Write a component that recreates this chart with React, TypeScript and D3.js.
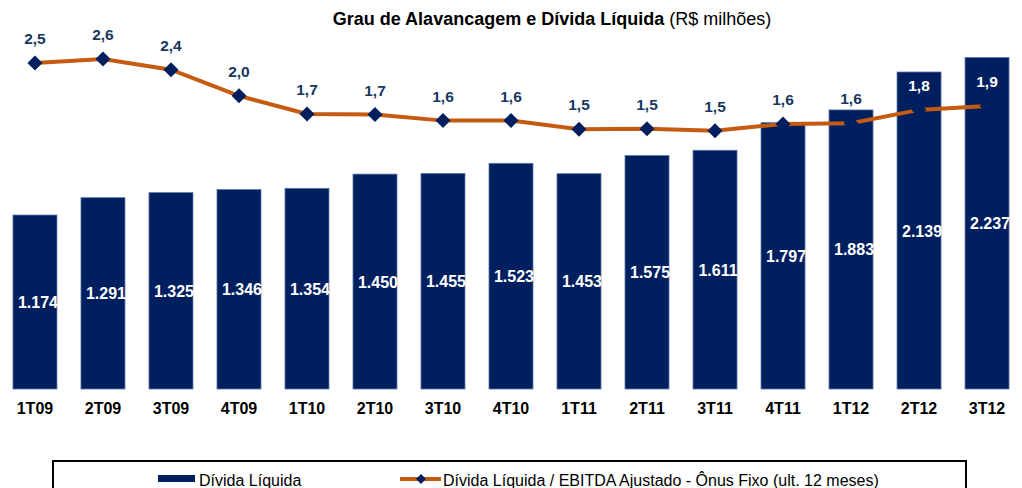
import { scaleBand, scaleLinear, line } from "d3";

const categories = ["1T09", "2T09", "3T09", "4T09", "1T10", "2T10", "3T10", "4T10", "1T11", "2T11", "3T11", "4T11", "1T12", "2T12", "3T12"];
const dividaLiquida = [1174, 1291, 1325, 1346, 1354, 1450, 1455, 1523, 1453, 1575, 1611, 1797, 1883, 2139, 2237];
const alavancagem = [2.5, 2.56, 2.4, 2.01, 1.74, 1.73, 1.64, 1.64, 1.51, 1.52, 1.49, 1.59, 1.6, 1.8, 1.86];

const width = 1022;
const height = 488;
const navy = "#001F5F";
const orange = "#C55A11";
const font = "Liberation Sans, Arial, sans-serif";

const x = scaleBand().domain(categories).range([1, 1021]).paddingInner(0.353).paddingOuter(0.176);
const yBar = scaleLinear().domain([0, 2500]).range([389, 18.5]);
const yLine = scaleLinear().domain([0, 3]).range([230.5, 29.5]);

const fmtNum = (v: number) => String(v).replace(/\B(?=(\d{3})+(?!\d))/g, ".");
const fmtRatio = (v: number) => v.toFixed(1).replace(".", ",");

const App = () => {
	const cx = (c: string) => (x(c) ?? 0) + x.bandwidth() / 2;
	const path = line<number>()
		.x((_, i) => cx(categories[i]))
		.y((d) => yLine(d))(alavancagem);

	const diamond = (px: number, py: number, r: number) =>
		`M${px},${py - r}L${px + r},${py}L${px},${py + r}L${px - r},${py}Z`;

	return (
		<>
			<style>{`body{margin:0}`}</style>
			<svg width={width} height={height} style={{ display: "block", fontFamily: font }}>
				<rect width={width} height={height} fill="#fff" />
				<text x={552} y={25} textAnchor="middle" fontSize={18} fill="#000">
					<tspan fontWeight="bold">Grau de Alavancagem e Dívida Líquida</tspan>
					<tspan> (R$ milhões)</tspan>
				</text>

				{categories.map((c, i) => {
					const top = yBar(dividaLiquida[i]);
					return (
						<g key={c}>
							<rect x={x(c)} y={top} width={x.bandwidth()} height={389 - top} fill={navy} stroke="#5d77a8" strokeWidth={0.8} />
							<text x={cx(c) + 3} y={(top + 389) / 2 + 6} textAnchor="middle" fontSize={16} fontWeight="bold" fill="#fff">
								{fmtNum(dividaLiquida[i])}
							</text>
							<text x={cx(c)} y={414} textAnchor="middle" fontSize={16} fontWeight="bold" fill="#000">
								{c}
							</text>
						</g>
					);
				})}

				<path d={path ?? ""} fill="none" stroke={orange} strokeWidth={4} />
				{categories.map((c, i) => {
					const py = yLine(alavancagem[i]);
					const ly = py - 19;
					const inBar = ly - 7 > yBar(dividaLiquida[i]);
					return (
						<g key={c}>
							<path d={diamond(cx(c), py, 7.5)} fill={navy} />
							<text x={cx(c)} y={ly} textAnchor="middle" fontSize={15.5} fontWeight="bold" fill={inBar ? "#fff" : "#17375E"}>
								{fmtRatio(alavancagem[i])}
							</text>
						</g>
					);
				})}

				<rect x={53} y={461} width={913} height={40} fill="none" stroke="#000" strokeWidth={2} />
				<rect x={158} y={475} width={37} height={7} fill={navy} />
				<text x={199} y={486} fontSize={16} fill="#000">Dívida Líquida</text>
				<line x1={400} x2={441} y1={479} y2={479} stroke={orange} strokeWidth={4} />
				<path d={diamond(421, 479, 5)} fill={navy} />
				<text x={443} y={486} fontSize={16} fill="#000">Dívida Líquida / EBITDA Ajustado - Ônus Fixo (ult. 12 meses)</text>
			</svg>
		</>
	);
};

export default App;
